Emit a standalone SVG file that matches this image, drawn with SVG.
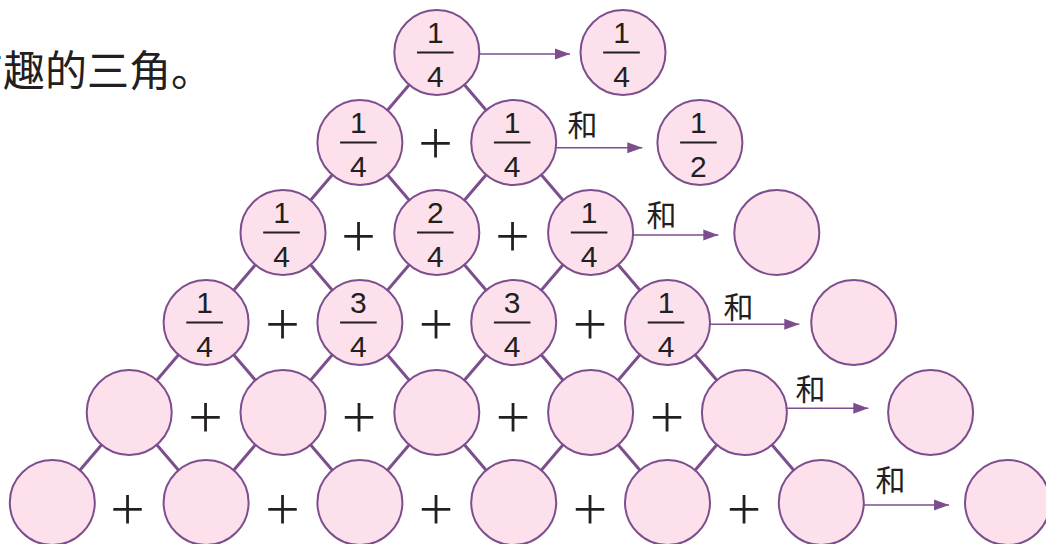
<svg xmlns="http://www.w3.org/2000/svg" width="1046" height="544" viewBox="0 0 1046 544">
<defs>
<style>
.c{fill:#fce1ec;stroke:#7d4e8d;stroke-width:2}
.ln{stroke:#7d4e8d;stroke-width:3;fill:none}
.ar{stroke:#7d4e8d;stroke-width:1.6;fill:none}
.bar{stroke:#231f20;stroke-width:2}
.f{font-family:"Liberation Sans",Arial,sans-serif;font-size:30px;fill:#231f20;text-anchor:middle}
.p{font-family:Inter,"Liberation Sans",sans-serif;font-weight:170;font-size:66px;fill:#231f20;text-anchor:middle}
.h{font-family:"Noto Sans CJK SC",sans-serif;font-size:30px;fill:#231f20}
.t{font-family:"Noto Sans CJK SC",sans-serif;font-size:42px;fill:#231f20}
</style>
<marker id="ah" markerUnits="userSpaceOnUse" markerWidth="16" markerHeight="12" refX="15" refY="6" orient="auto">
<path d="M0,0.5 L15,6 L0,11.5 Z" fill="#7d4e8d"/>
</marker>
</defs>
<rect width="1046" height="544" fill="#ffffff"/>
<text class="t" x="-39" y="86">有趣的三角。</text>
<g id="connectors">
<line class="ln" x1="436.8" y1="52.5" x2="359.9" y2="142.5"/>
<line class="ln" x1="436.8" y1="52.5" x2="513.7" y2="142.5"/>
<line class="ln" x1="359.9" y1="142.5" x2="283" y2="232.5"/>
<line class="ln" x1="359.9" y1="142.5" x2="436.8" y2="232.5"/>
<line class="ln" x1="513.7" y1="142.5" x2="436.8" y2="232.5"/>
<line class="ln" x1="513.7" y1="142.5" x2="590.6" y2="232.5"/>
<line class="ln" x1="283" y1="232.5" x2="206.1" y2="322.5"/>
<line class="ln" x1="283" y1="232.5" x2="359.9" y2="322.5"/>
<line class="ln" x1="436.8" y1="232.5" x2="359.9" y2="322.5"/>
<line class="ln" x1="436.8" y1="232.5" x2="513.7" y2="322.5"/>
<line class="ln" x1="590.6" y1="232.5" x2="513.7" y2="322.5"/>
<line class="ln" x1="590.6" y1="232.5" x2="667.5" y2="322.5"/>
<line class="ln" x1="206.1" y1="322.5" x2="129.2" y2="412.5"/>
<line class="ln" x1="206.1" y1="322.5" x2="283" y2="412.5"/>
<line class="ln" x1="359.9" y1="322.5" x2="283" y2="412.5"/>
<line class="ln" x1="359.9" y1="322.5" x2="436.8" y2="412.5"/>
<line class="ln" x1="513.7" y1="322.5" x2="436.8" y2="412.5"/>
<line class="ln" x1="513.7" y1="322.5" x2="590.6" y2="412.5"/>
<line class="ln" x1="667.5" y1="322.5" x2="590.6" y2="412.5"/>
<line class="ln" x1="667.5" y1="322.5" x2="744.4" y2="412.5"/>
<line class="ln" x1="129.2" y1="412.5" x2="52.3" y2="502.5"/>
<line class="ln" x1="129.2" y1="412.5" x2="206.1" y2="502.5"/>
<line class="ln" x1="283" y1="412.5" x2="206.1" y2="502.5"/>
<line class="ln" x1="283" y1="412.5" x2="359.9" y2="502.5"/>
<line class="ln" x1="436.8" y1="412.5" x2="359.9" y2="502.5"/>
<line class="ln" x1="436.8" y1="412.5" x2="513.7" y2="502.5"/>
<line class="ln" x1="590.6" y1="412.5" x2="513.7" y2="502.5"/>
<line class="ln" x1="590.6" y1="412.5" x2="667.5" y2="502.5"/>
<line class="ln" x1="744.4" y1="412.5" x2="667.5" y2="502.5"/>
<line class="ln" x1="744.4" y1="412.5" x2="821.3" y2="502.5"/>
<line class="ar" x1="479.3" y1="54" x2="570" y2="54" marker-end="url(#ah)"/>
<line class="ar" x1="556.2" y1="147.7" x2="642.3" y2="147.7" marker-end="url(#ah)"/>
<line class="ar" x1="633.1" y1="235" x2="718.3" y2="235" marker-end="url(#ah)"/>
<line class="ar" x1="710" y1="324.3" x2="799.3" y2="324.3" marker-end="url(#ah)"/>
<line class="ar" x1="786.9" y1="408.3" x2="868.3" y2="408.3" marker-end="url(#ah)"/>
<line class="ar" x1="863.8" y1="505" x2="949" y2="505" marker-end="url(#ah)"/>
</g>
<g id="labels">
<text class="h" x="567.5" y="136">和</text>
<text class="h" x="646.5" y="225.5">和</text>
<text class="h" x="723.5" y="318">和</text>
<text class="h" x="795.5" y="399.5">和</text>
<text class="h" x="875.5" y="490.5">和</text>
</g>
<g id="plus">
<text class="p" x="435.5" y="161.5">+</text>
<text class="p" x="358.5" y="254.5">+</text>
<text class="p" x="512.5" y="254.5">+</text>
<text class="p" x="282.5" y="342.5">+</text>
<text class="p" x="436" y="342.5">+</text>
<text class="p" x="590" y="342.5">+</text>
<text class="p" x="205.5" y="435.5">+</text>
<text class="p" x="359" y="435.5">+</text>
<text class="p" x="513" y="435.5">+</text>
<text class="p" x="667" y="435.5">+</text>
<text class="p" x="127.5" y="528">+</text>
<text class="p" x="282.5" y="528">+</text>
<text class="p" x="436" y="528">+</text>
<text class="p" x="590" y="528">+</text>
<text class="p" x="744" y="528">+</text>
</g>
<g id="n0-0"><circle class="c" cx="436.8" cy="52.5" r="42.5"/><text class="f" x="435.3" y="42.5">1</text><line class="bar" x1="417" y1="52.5" x2="453.6" y2="52.5"/><text class="f" x="435.3" y="86.5">4</text></g>
<g id="s0"><circle class="c" cx="623" cy="52.5" r="42.5"/><text class="f" x="621.5" y="42.5">1</text><line class="bar" x1="603.2" y1="52.5" x2="639.8" y2="52.5"/><text class="f" x="621.5" y="86.5">4</text></g>
<g id="n1-0"><circle class="c" cx="359.9" cy="142.5" r="42.5"/><text class="f" x="358.4" y="132.5">1</text><line class="bar" x1="340.1" y1="142.5" x2="376.7" y2="142.5"/><text class="f" x="358.4" y="176.5">4</text></g>
<g id="n1-1"><circle class="c" cx="513.7" cy="142.5" r="42.5"/><text class="f" x="512.2" y="132.5">1</text><line class="bar" x1="493.9" y1="142.5" x2="530.5" y2="142.5"/><text class="f" x="512.2" y="176.5">4</text></g>
<g id="s1"><circle class="c" cx="699.9" cy="142.5" r="42.5"/><text class="f" x="698.4" y="132.5">1</text><line class="bar" x1="680.1" y1="142.5" x2="716.7" y2="142.5"/><text class="f" x="698.4" y="176.5">2</text></g>
<g id="n2-0"><circle class="c" cx="283" cy="232.5" r="42.5"/><text class="f" x="281.5" y="222.5">1</text><line class="bar" x1="263.2" y1="232.5" x2="299.8" y2="232.5"/><text class="f" x="281.5" y="266.5">4</text></g>
<g id="n2-1"><circle class="c" cx="436.8" cy="232.5" r="42.5"/><text class="f" x="435.3" y="222.5">2</text><line class="bar" x1="417" y1="232.5" x2="453.6" y2="232.5"/><text class="f" x="435.3" y="266.5">4</text></g>
<g id="n2-2"><circle class="c" cx="590.6" cy="232.5" r="42.5"/><text class="f" x="589.1" y="222.5">1</text><line class="bar" x1="570.8" y1="232.5" x2="607.4" y2="232.5"/><text class="f" x="589.1" y="266.5">4</text></g>
<g id="s2"><circle class="c" cx="776.8" cy="232.5" r="42.5"/></g>
<g id="n3-0"><circle class="c" cx="206.1" cy="322.5" r="42.5"/><text class="f" x="204.6" y="312.5">1</text><line class="bar" x1="186.3" y1="322.5" x2="222.9" y2="322.5"/><text class="f" x="204.6" y="356.5">4</text></g>
<g id="n3-1"><circle class="c" cx="359.9" cy="322.5" r="42.5"/><text class="f" x="358.4" y="312.5">3</text><line class="bar" x1="340.1" y1="322.5" x2="376.7" y2="322.5"/><text class="f" x="358.4" y="356.5">4</text></g>
<g id="n3-2"><circle class="c" cx="513.7" cy="322.5" r="42.5"/><text class="f" x="512.2" y="312.5">3</text><line class="bar" x1="493.9" y1="322.5" x2="530.5" y2="322.5"/><text class="f" x="512.2" y="356.5">4</text></g>
<g id="n3-3"><circle class="c" cx="667.5" cy="322.5" r="42.5"/><text class="f" x="666" y="312.5">1</text><line class="bar" x1="647.7" y1="322.5" x2="684.3" y2="322.5"/><text class="f" x="666" y="356.5">4</text></g>
<g id="s3"><circle class="c" cx="853.7" cy="322.5" r="42.5"/></g>
<g id="n4-0"><circle class="c" cx="129.2" cy="412.5" r="42.5"/></g>
<g id="n4-1"><circle class="c" cx="283" cy="412.5" r="42.5"/></g>
<g id="n4-2"><circle class="c" cx="436.8" cy="412.5" r="42.5"/></g>
<g id="n4-3"><circle class="c" cx="590.6" cy="412.5" r="42.5"/></g>
<g id="n4-4"><circle class="c" cx="744.4" cy="412.5" r="42.5"/></g>
<g id="s4"><circle class="c" cx="930.6" cy="412.5" r="42.5"/></g>
<g id="n5-0"><circle class="c" cx="52.3" cy="502.5" r="42.5"/></g>
<g id="n5-1"><circle class="c" cx="206.1" cy="502.5" r="42.5"/></g>
<g id="n5-2"><circle class="c" cx="359.9" cy="502.5" r="42.5"/></g>
<g id="n5-3"><circle class="c" cx="513.7" cy="502.5" r="42.5"/></g>
<g id="n5-4"><circle class="c" cx="667.5" cy="502.5" r="42.5"/></g>
<g id="n5-5"><circle class="c" cx="821.3" cy="502.5" r="42.5"/></g>
<g id="s5"><circle class="c" cx="1007.5" cy="502.5" r="42.5"/></g>
</svg>
